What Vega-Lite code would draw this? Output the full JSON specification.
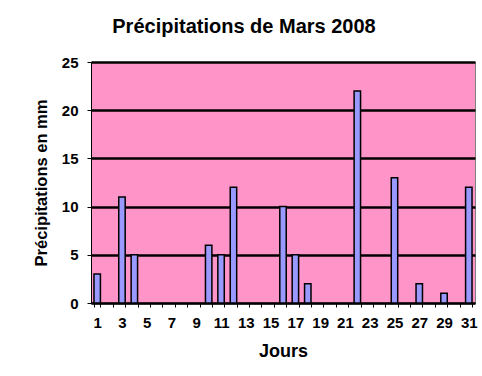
{
  "$schema": "https://vega.github.io/schema/vega-lite/v6.json",
  "autosize": {"type": "none"},
  "width": 384,
  "height": 241,
  "padding": {"left": 91, "top": 62, "right": 7, "bottom": 73},
  "background": "white",
  "title": {
    "text": "Précipitations de Mars 2008",
    "font": "Liberation Sans",
    "fontSize": 20,
    "fontWeight": "bold",
    "color": "black",
    "anchor": "middle",
    "frame": "group",
    "dx": -39,
    "offset": 18
  },
  "config": {
    "view": {"fill": "#FF94C9", "stroke": "#808080", "strokeWidth": 1},
    "axis": {
      "labelFont": "Liberation Sans",
      "titleFont": "Liberation Sans",
      "labelColor": "black",
      "titleColor": "black",
      "labelFontWeight": "bold",
      "titleFontWeight": "bold"
    }
  },
  "data": {
    "values": [
      {"jour": 1, "mm": 3},
      {"jour": 3, "mm": 11},
      {"jour": 4, "mm": 5},
      {"jour": 10, "mm": 6},
      {"jour": 11, "mm": 5},
      {"jour": 12, "mm": 12},
      {"jour": 16, "mm": 10},
      {"jour": 17, "mm": 5},
      {"jour": 18, "mm": 2},
      {"jour": 22, "mm": 22},
      {"jour": 25, "mm": 13},
      {"jour": 27, "mm": 2},
      {"jour": 29, "mm": 1},
      {"jour": 31, "mm": 12}
    ]
  },
  "mark": {"type": "bar", "fill": "#9999FF", "stroke": "black", "strokeWidth": 1.5},
  "encoding": {
    "x": {
      "field": "jour",
      "type": "ordinal",
      "scale": {"domain": [1,2,3,4,5,6,7,8,9,10,11,12,13,14,15,16,17,18,19,20,21,22,23,24,25,26,27,28,29,30,31], "paddingInner": 0.48, "paddingOuter": 0.24},
      "axis": {
        "orient": "bottom",
        "title": "Jours",
        "titleFontSize": 18,
        "titlePadding": 12,
        "labelAngle": 0,
        "labelFontSize": 15,
        "labelPadding": 8,
        "labelExpr": "datum.value % 2 == 1 ? datum.label : ''",
        "ticks": true,
        "tickBand": "extent",
        "tickColor": "black",
        "tickSize": 4,
        "tickWidth": 1,
        "domain": true,
        "domainColor": "black",
        "domainWidth": 1.5,
        "grid": false
      }
    },
    "y": {
      "field": "mm",
      "type": "quantitative",
      "scale": {"domain": [0, 25]},
      "axis": {
        "title": "Précipitations en mm",
        "titleFontSize": 16.5,
        "titlePadding": 12,
        "values": [0, 5, 10, 15, 20, 25],
        "labelFontSize": 15,
        "labelPadding": 9,
        "tickColor": "black",
        "tickSize": 4,
        "domainColor": "black",
        "grid": true,
        "gridColor": "black",
        "gridWidth": 2.5
      }
    }
  }
}
